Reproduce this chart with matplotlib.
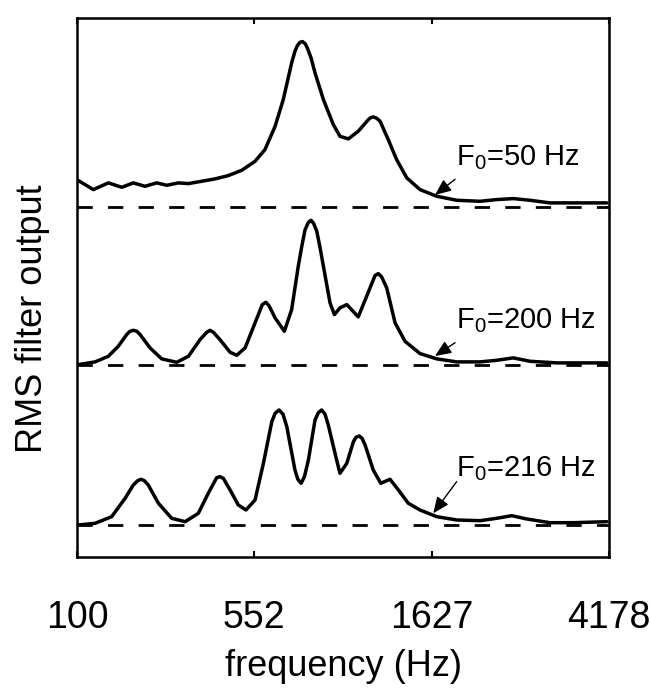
import numpy as np
import matplotlib
matplotlib.use('Agg')
import matplotlib.pyplot as plt

plt.rcParams['font.family'] = ['Liberation Sans', 'DejaVu Sans']
plt.rcParams['mathtext.default'] = 'regular'

# x axis: filter channels, equally spaced on the ERB-rate scale
tick_freqs = [100, 552, 1627, 4178]

def hz_to_erb(f):
    return 21.4 * np.log10(1 + 0.00437 * np.asarray(f, dtype=float))

# ERB-rate of each sampled channel, RMS output above that panel's baseline
erb_50 = [3.43, 4.11, 4.79, 5.40, 5.92, 6.45, 6.98, 7.44, 7.96, 8.42, 9.02, 9.63,
          10.23, 10.84, 11.44, 11.89, 12.35, 12.72, 13.10, 13.25, 13.36, 13.48,
          13.59, 13.71, 13.81, 13.98, 14.16, 14.54, 14.99, 15.29, 15.67, 16.12,
          16.58, 16.69, 16.80, 16.96, 17.11, 17.48, 17.86, 18.32, 18.92, 19.68,
          20.59, 21.64, 22.40, 23.15, 23.91, 24.81, 25.87, 27.39]
rms_50 = [0.267, 0.177, 0.244, 0.200, 0.244, 0.210, 0.244, 0.220, 0.244, 0.237,
          0.260, 0.284, 0.317, 0.370, 0.460, 0.577, 0.810, 1.077, 1.444, 1.560,
          1.617, 1.650, 1.657, 1.637, 1.594, 1.494, 1.344, 1.077, 0.827, 0.710,
          0.684, 0.760, 0.877, 0.897, 0.904, 0.890, 0.860, 0.677, 0.477, 0.294,
          0.177, 0.110, 0.070, 0.060, 0.077, 0.087, 0.070, 0.044, 0.044, 0.044]

erb_200 = [3.43, 4.19, 4.79, 5.24, 5.62, 5.77, 5.92, 6.08, 6.23, 6.68, 7.21, 7.89,
           8.42, 8.95, 9.25, 9.40, 9.55, 9.85, 10.31, 10.61, 10.99, 11.44, 11.77,
           11.93, 12.07, 12.35, 12.77, 13.10, 13.40, 13.56, 13.71, 13.86, 13.98,
           14.10, 14.24, 14.39, 14.54, 14.84, 15.04, 15.29, 15.60, 16.12, 16.50,
           16.88, 17.03, 17.18, 17.41, 17.79, 18.24, 18.92, 19.68, 20.59, 21.64,
           22.40, 23.15, 23.91, 25.12, 27.39]
rms_200 = [0.007, 0.034, 0.090, 0.190, 0.307, 0.340, 0.350, 0.340, 0.307, 0.174,
           0.064, 0.030, 0.090, 0.257, 0.330, 0.350, 0.330, 0.257, 0.130, 0.100,
           0.174, 0.424, 0.607, 0.630, 0.597, 0.474, 0.340, 0.557, 0.990, 1.190,
           1.357, 1.430, 1.450, 1.417, 1.340, 1.174, 0.990, 0.624, 0.507, 0.574,
           0.607, 0.484, 0.690, 0.897, 0.917, 0.884, 0.774, 0.424, 0.240, 0.117,
           0.064, 0.034, 0.034, 0.050, 0.074, 0.040, 0.024, 0.024]

erb_216 = [3.43, 4.19, 4.94, 5.55, 5.92, 6.12, 6.27, 6.42, 6.60, 7.06, 7.66, 8.27,
           8.87, 9.32, 9.70, 9.85, 10.00, 10.31, 10.68, 11.03, 11.44, 11.82, 12.20,
           12.35, 12.53, 12.71, 12.88, 13.25, 13.38, 13.53, 13.68, 13.86, 14.16,
           14.31, 14.46, 14.61, 14.76, 15.14, 15.29, 15.60, 15.90, 16.02, 16.16,
           16.29, 16.43, 16.80, 17.14, 17.56, 17.94, 18.39, 18.92, 19.68, 20.59,
           21.64, 22.40, 23.08, 23.76, 24.81, 25.87, 27.39]
rms_216 = [0.003, 0.020, 0.086, 0.270, 0.403, 0.446, 0.460, 0.446, 0.403, 0.220,
           0.070, 0.036, 0.120, 0.320, 0.476, 0.486, 0.470, 0.353, 0.203, 0.153,
           0.253, 0.620, 1.036, 1.120, 1.153, 1.110, 0.986, 0.553, 0.460, 0.420,
           0.486, 0.653, 1.053, 1.126, 1.153, 1.113, 1.003, 0.653, 0.520, 0.620,
           0.836, 0.880, 0.893, 0.870, 0.803, 0.553, 0.420, 0.460, 0.353, 0.220,
           0.153, 0.086, 0.053, 0.046, 0.070, 0.096, 0.063, 0.026, 0.026, 0.036]

labels = ['F$_0$=50 Hz', 'F$_0$=200 Hz', 'F$_0$=216 Hz']
offsets = [3.18, 1.60, 0.0]


def main():
    fig = plt.figure(figsize=(6.5, 6.89), dpi=100)
    ax = fig.add_axes([0.1185, 0.1916, 0.8185, 0.7823])

    lo, hi = hz_to_erb(tick_freqs[0]), hz_to_erb(tick_freqs[-1])
    curves = [(erb_50, rms_50), (erb_200, rms_200), (erb_216, rms_216)]
    for (xs, ys), off in zip(curves, offsets):
        ax.plot([lo, hi], [off, off], color='black', lw=2, dashes=(5.5, 5.5))
        ax.plot(xs, np.array(ys) + off, color='black', lw=2.5,
                solid_joinstyle='round', solid_capstyle='round')

    # F0 labels, each with a short arrow pointing at its curve
    text_y = [3.603, 1.973, 0.493]
    tails = [(20.51, 3.46), (20.51, 1.826), (20.58, 0.436)]
    heads = [(19.60, 3.303), (19.60, 1.693), (19.52, 0.12)]
    for lab, ty, tail, head in zip(labels, text_y, tails, heads):
        ax.text(20.55, ty, lab, fontsize=21, va='baseline', ha='left')
        ax.annotate('', xy=head, xytext=tail,
                    arrowprops=dict(arrowstyle='-|>,head_length=0.7,head_width=0.3',
                                    color='black', lw=1, shrinkA=0, shrinkB=0,
                                    mutation_scale=14))

    ax.set_xlim(lo, hi)
    ax.set_ylim(-0.317, 5.073)
    ax.set_xticks(hz_to_erb(tick_freqs))
    ax.set_xticklabels([str(f) for f in tick_freqs])
    ax.set_yticks([])
    ax.tick_params(axis='x', direction='in', top=True, length=4, width=1.5,
                   labelsize=27, pad=31)
    for s in ax.spines.values():
        s.set_linewidth(1.8)

    ax.set_xlabel('frequency (Hz)', fontsize=26, labelpad=9)
    ax.set_ylabel('RMS filter output', fontsize=26)
    ax.yaxis.set_label_coords(-0.05, 0.443)

    fig.savefig('out.png', dpi=100)


if __name__ == '__main__':
    main()
